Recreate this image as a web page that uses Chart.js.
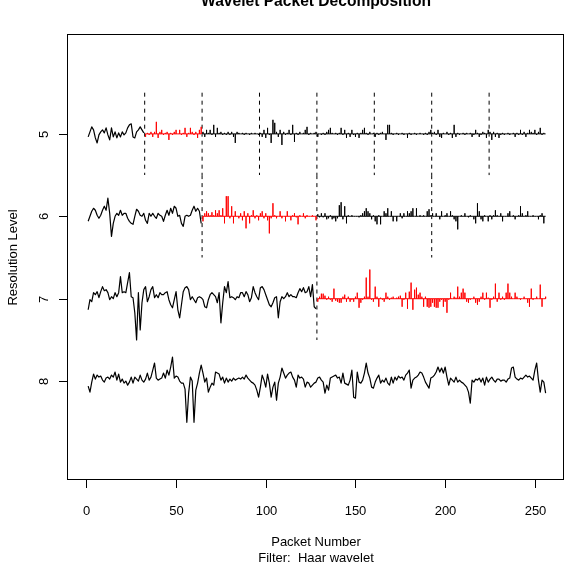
<!DOCTYPE html>
<html>
<head>
<meta charset="utf-8">
<script src="https://cdn.jsdelivr.net/npm/chart.js@4.4.1/dist/chart.umd.min.js"></script>
<style>
  html, body { margin: 0; padding: 0; background: #fff; }
  canvas { display: block; }
</style>
</head>
<body>
<canvas id="wp" width="571" height="567"></canvas>
<script>
// packet coefficients for each resolution level, 256 per level
const level5 = [
  -3,2,7,4,-4,-9,-1,2,4,1, 6,-1,-6,6,-3,2,-4,1,-3,2, -1,1,6,9,10,-3,-4,2,4,7, 4,1,
  -3,1,-1,2,-3,2,12,-4,2,4, -1,1,2,-6,1,-1,2,4,0,4, -1,1,6,-3,1,6,2,-1,2,-4, 4,7,
  2,-3,4,1,4,-1,9,-3,6,1, 2,-1,1,-1,2,-1,2,-3,-9,2, 1,0,1,-1,1,0,-1,1,0,1, 0,-1,1,-3,4,-4,6,-1,-9,14,
  11,2,-3,4,-11,2,-1,1,4,-1, 9,-8,1,-1,2,0,1,4,7,-1, 1,0,1,2,
  -3,0,-1,1,-1,2,4,6,1,0, 1,-1,1,6,-1,4,-4,1,-3,4, -1,-3,1,-4,1,4,6,1,-1,2, 0,1,-3,1,-1,1,2,0,-6,9,
  9,1,-1,0,1,-1,0,1,-1,0, -4,1,-1,0,1,-1,0,1,0,-1, 1,-1,2,4,1,2,-1,4,-3,-4, 1,0,2,-1,1,-4,9,-3,1,-1,
  0,1,-1,1,0,1,-3,-1,4,1, -3,-1,2,1,-4,4,2,-6,2,-3, 1,-4,-1,1,-1,0,1,-1,0,1, -3,1,-1,4,-1,2,-3,1,4,2,
  1,4,-1,2,6,-1,1,0
];
const level6 = [
  -5,0,5,8,6,1,-2,1,6,10, 6,18,3,-20,-7,0,3,1,6,1, 3,3,-2,-5,-7,-8,0,7,5,1, 0,3,-4,-7,3,0,3,0,-2,3,
  1,0,-5,1,6,1,8,3,10,8, 0,1,-7,-10,0,1,0,1,6,10, 5,8,5,-7,
  -5,3,5,3,1,4,1,6,3,6, 1,8,-7,20,20,-2,10,-7,5,0, -2,3,-4,5,-12,3,-7,1,6,-2, 1,-4,3,5,-2,3,-4,-17,-2,13,
  1,-2,0,5,-2,0,-5,5,0,-4, 1,3,-1,-8,1,0,3,-2,1,0, 0,1,0,-4,
  2,-1,3,-1,3,-3,-2,1,-3,-2, -5,-2,11,14,-3,10,-7,1,0,1, 0,0,0,-1,1,3,5,8,5,3, -3,1,-5,-8,1,-8,0,5,3,8,
  0,5,-5,0,-5,0,3,-2,3,0, 5,3,5,8,0,8,0,1,0,1, 0,5,7,1,3,0,3,0,-3,5, 0,1,3,0,5,1,-3,-5,-13,0,
  1,0,3,0,-1,1,0,-3,-7,13, 5,-3,-5,1,0,-5,1,-3,1,6, 1,0,3,-5,0,0,3,5,0,1, -3,0,1,10,3,0,1,5,0,0,
  1,0,0,-3,1,3,-7,0
];
const level7 = [
  -11,-1,-3,6,4,7,1,7,12,8, 9,6,-1,2,0,6,2,6,22,6, 7,6,16,26,2,1,-14,-41,6,-31, -4,9,12,-3,2,9,12,1,4,1,
  6,4,4,6,7,-1,-6,-9,-1,7, -11,-19,-6,7,11,12,9,-1,2,-1, -4,1,2,1,-1,-8,-9,-1,4,6, 4,2,-4,6,-24,-4,12,6,17,1,
  2,1,-1,2,1,6,6,2,7,4, -3,1,12,6,2,-1,11,12,9,4, -1,-6,-8,-4,1,2,-19,-3,2,0, 2,6,2,4,2,2,1,6,10,7,
  11,6,7,12,2,14,-8,-10,
  -3,2,5,5,3,-1,2,-1,-3,10, -2,-3,-4,-4,2,4,-3,2,-3,-1, -3,2,6,-9,-4,-1,2,21,2,29, -1,-3,12,2,-8,1,-1,-3,6,2,
  -1,1,2,0,1,2,3,-8,-1,6, -10,7,16,-11,9,11,4,6,2,-8, 2,-8,-9,-8,-4,-8,-9,-9,-3,-1, -8,-3,-14,-1,6,0,2,1,12,2,
  6,10,6,-3,-4,-1,0,2,-4,-6, -3,2,6,-1,6,1,-9,-1,2,15, -3,6,-1,2,-1,6,15,6,2,0, 6,2,0,-1,0,2,0,-4,-8,10,
  -1,0,2,0,14,-8,0,2
];
const level8 = [
  -5,-11,-1,7,2,6,4,5,1,-1, 3,4,2,6,4,9,1,7,-1,2, -2,0,-4,-1,4,-2,4,2,0,6, 1,-1,2,8,1,4,11,18,3,1,
  2,3,8,3,11,6,14,24,3,5, 4,0,-2,-2,-8,-41,-12,4,0,-41, -9,-2,8,16,8,-1,3,-11,-6,-2, -4,9,8,7,1,4,-2,3,-1,2,
  0,3,1,2,3,2,4,2,6,3, 1,-1,-2,-4,-9,-16,-6,6,1,-6, 7,-2,-16,-6,-1,-19,-2,4,13,8, 3,6,8,9,4,1,-6,6,3,4,
  2,-6,-1,-2,-6,-4,-2,-1,3,4,
  1,-1,-12,-4,-9,3,4,5,6,3, 4,-2,8,-2,-3,-4,1,11,-16,-17, 9,-1,-2,1,8,18,8,3,-6,-7, -1,3,6,-2,1,-1,3,-2,-4,4,
  -2,4,1,5,3,4,1,6,8,11, -7,1,3,4,6,9,8,4,-1,-4, -7,3,4,6,9,14,9,13,8,14, 4,-4,3,1,-1,4,-1,1,-1,-2,
  -4,-6,-11,-22,1,-1,2,1,3,-1, 3,-4,4,-1,2,4,1,-1,2,2, 0,1,1,-1,2,3,13,14,4,2, 1,3,2,4,6,4,5,3,1,11,
  18,1,-11,1,-1,-12
];

const levels = [5, 6, 7, 8];
const coefs = {5: level5, 6: level6, 7: level7, 8: level8};
const selectedPacket = {5: 1, 6: 1, 7: 1};   // packets drawn in red
const xTicks = [0, 50, 100, 150, 200, 250];
const yTicks = [5, 6, 7, 8];

const title = 'Wavelet Packet Decomposition';
const xLabel = 'Packet Number';
const subLabel = 'Filter:  Haar wavelet';
const yLabel = 'Resolution Level';

const coefScale = 1 / 82;

const datasets = [];
levels.forEach(lev => {
  const vals = coefs[lev];
  const size = 2 ** lev;
  const npkts = vals.length / size;
  for (let k = 0; k < npkts; k++) {
    const pts = [];
    for (let j = 0; j < size; j++) {
      const i = k * size + j;
      const x = i + 1, y = lev - vals[i] * coefScale;
      if (k === 0) pts.push({x, y});
      else pts.push({x, y: lev}, {x, y}, {x, y: lev});
    }
    datasets.push({
      data: pts,
      borderColor: selectedPacket[lev] === k ? '#ff0000' : '#000000',
      borderWidth: k === 0 ? 1.2 : 1
    });
  }
  // dashed packet boundaries
  for (let k = 1; k < npkts; k++) {
    const x = k * size + 0.5;
    datasets.push({
      data: [{x, y: lev - 0.5}, {x, y: lev + 0.5}],
      borderColor: '#000000',
      borderWidth: 1,
      borderDash: [4, 4]
    });
  }
});

const font = "'Liberation Sans', Arial, sans-serif";

const rAxes = {
  id: 'rAxes',
  afterDraw(chart) {
    const {ctx, chartArea: a, scales: {x, y}} = chart;
    ctx.save();
    ctx.strokeStyle = '#000';
    ctx.fillStyle = '#000';
    ctx.lineWidth = 1;
    ctx.strokeRect(a.left - 0.5, a.top - 0.5, a.right - a.left, a.bottom - a.top);

    ctx.font = '13px ' + font;
    ctx.textAlign = 'center';
    ctx.textBaseline = 'alphabetic';
    xTicks.forEach(v => {
      const px = Math.round(x.getPixelForValue(v)) + 0.5;
      ctx.beginPath();
      ctx.moveTo(px, a.bottom);
      ctx.lineTo(px, a.bottom + 8);
      ctx.stroke();
      ctx.fillText(String(v), px, 515);
    });
    yTicks.forEach(v => {
      const py = Math.round(y.getPixelForValue(v)) + 0.5;
      ctx.beginPath();
      ctx.moveTo(a.left - 1, py);
      ctx.lineTo(a.left - 9, py);
      ctx.stroke();
      ctx.save();
      ctx.translate(47.5, py);
      ctx.rotate(-Math.PI / 2);
      ctx.fillText(String(v), 0, 0);
      ctx.restore();
    });

    const cx = (a.left + a.right) / 2;
    ctx.fillText(xLabel, cx, 546);
    ctx.fillText(subLabel, cx, 562);

    ctx.save();
    ctx.translate(17, (a.top + a.bottom) / 2);
    ctx.rotate(-Math.PI / 2);
    ctx.fillText(yLabel, 0, 0);
    ctx.restore();

    ctx.font = 'bold 15.6px ' + font;
    ctx.fillText(title, cx, 6);
    ctx.restore();
  }
};

new Chart(document.getElementById('wp'), {
  type: 'line',
  data: { datasets },
  options: {
    responsive: false,
    animation: false,
    events: [],
    layout: { padding: { left: 68, right: 7, top: 35, bottom: 87 } },
    elements: {
      point: { radius: 0 },
      line: { tension: 0, fill: false, borderJoinStyle: 'round' }
    },
    scales: {
      x: { type: 'linear', min: -10.24, max: 266.24, display: false },
      y: { type: 'linear', min: 3.8, max: 9.2, reverse: true, display: false }
    },
    plugins: { legend: { display: false }, tooltip: { enabled: false } }
  },
  plugins: [rAxes]
});
</script>
</body>
</html>
